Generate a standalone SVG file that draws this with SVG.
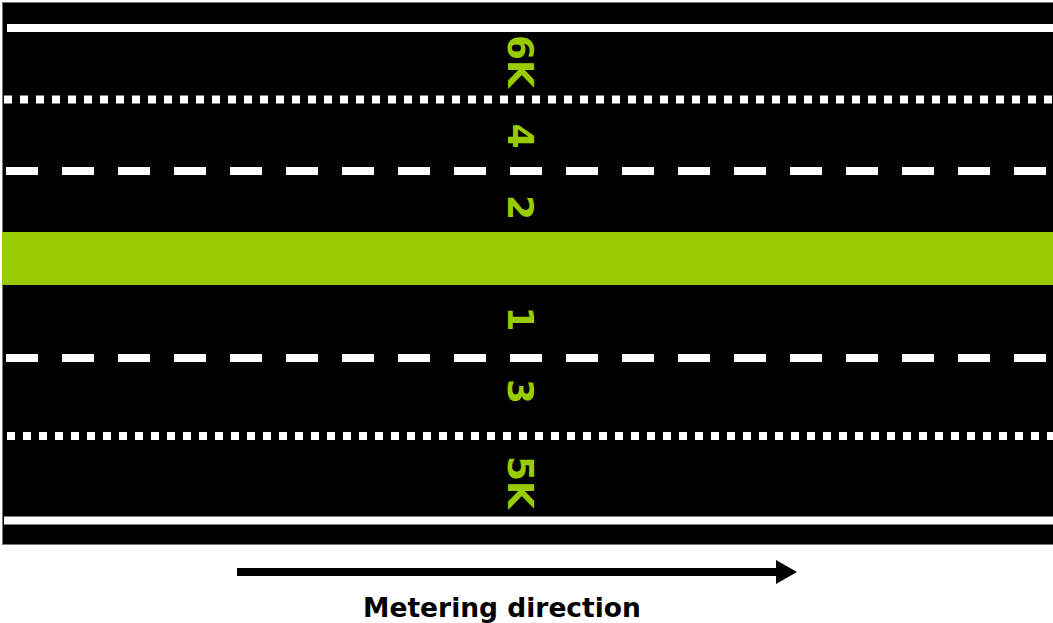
<svg xmlns="http://www.w3.org/2000/svg" width="1053" height="623" viewBox="0 0 1053 623">
<style>
.solid{stroke:#fff;stroke-width:8;fill:none}
.dotted{stroke:#fff;stroke-width:8;stroke-dasharray:8 8;fill:none}
.dashed{stroke:#fff;stroke-width:8;stroke-dasharray:32 24;fill:none}
.lane{font-family:"DejaVu Sans",Verdana,sans-serif;font-weight:bold;font-size:36px;fill:#99cc00;text-anchor:middle}
.cap{font-family:"DejaVu Sans",Verdana,sans-serif;font-weight:bold;font-size:26.5px;fill:#000;text-anchor:middle}
</style>
<g id="road">
<rect x="2.5" y="2.5" width="1052" height="542" fill="#000" stroke="#777" stroke-width="1"/>
<line class="solid" x1="7" y1="28" x2="1053" y2="28"/>
<line class="dotted" x1="4" y1="99.5" x2="1053" y2="99.5"/>
<line class="dashed" x1="6" y1="171" x2="1053" y2="171"/>
<rect x="2" y="232" width="1051" height="53" fill="#99cc00"/>
<line class="dashed" x1="6" y1="358" x2="1053" y2="358"/>
<line class="dotted" x1="7" y1="436" x2="1053" y2="436"/>
<line class="solid" x1="4" y1="520.5" x2="1053" y2="520.5"/>
</g>
<g id="labels">
<text class="lane" transform="translate(508,61.5) rotate(90)">6K</text>
<text class="lane" transform="translate(508,136) rotate(90)">4</text>
<text class="lane" transform="translate(508,207.5) rotate(90)">2</text>
<text class="lane" transform="translate(508,319) rotate(90)">1</text>
<text class="lane" transform="translate(508,391.5) rotate(90)">3</text>
<text class="lane" transform="translate(508,482.5) rotate(90)">5K</text>
</g>
<g id="connectors">
<line x1="237" y1="572" x2="777" y2="572" stroke="#000" stroke-width="8"/>
<polygon points="776,560 797,572 776,584" fill="#000"/>
</g>
<g id="caption">
<text class="cap" x="502" y="617">Metering direction</text>
</g>
</svg>
